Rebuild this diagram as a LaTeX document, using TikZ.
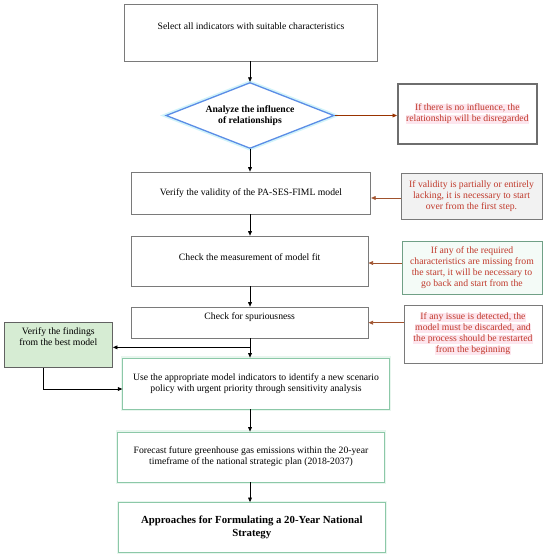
\documentclass[tikz,border=0pt]{standalone}
\usepackage{fontspec}
\setmainfont{Liberation Serif}
\usetikzlibrary{shapes.geometric,arrows.meta,calc}
\definecolor{redtxt}{HTML}{C0392B}
\definecolor{pinkhl}{HTML}{FDE6EE}
\definecolor{arrbrown}{HTML}{A0522D}
\definecolor{arrred}{HTML}{993300}
\definecolor{dblue}{HTML}{5B8DE6}
\definecolor{dglow}{HTML}{D2F4FA}
\definecolor{boxgray}{HTML}{7A7A7A}
\definecolor{thickgray}{HTML}{6E6E6E}
\definecolor{greenfill}{HTML}{D6ECD3}
\definecolor{greenline}{HTML}{8CC8A8}
\definecolor{greenglow}{HTML}{E8F6EE}
\definecolor{r3fill}{HTML}{F4FBF7}
\definecolor{r2fill}{HTML}{F2F2F2}
\newcommand{\hlt}[1]{{\setlength{\fboxsep}{0.5pt}\colorbox{pinkhl}{#1}}}
\begin{document}
\begin{tikzpicture}[x=1pt,y=-1pt,
  every node/.style={font=\fontsize{9.7}{11}\selectfont, inner sep=0pt, align=center},
  box/.style={draw=boxgray, line width=0.7pt, fill=white},
  gbox/.style={draw=greenline, line width=0.8pt, fill=white, preaction={draw=greenglow, line width=3.5pt}},
  rnote/.style={text=redtxt},
  arr/.style={-{Triangle[length=4.5pt,width=3.8pt]}, line width=0.7pt, black},
  barr/.style={-{Triangle[length=4.5pt,width=3.8pt]}, line width=0.7pt, arrbrown},
  txt/.style={font=\fontsize{9.7}{11}\selectfont, align=center}]
\useasboundingbox (0,0) rectangle (550,560);

% main column
\node[box, minimum width=253, minimum height=57,
  label={[txt, yshift=6.5pt]center:Select all indicators with suitable characteristics}] (b1) at (251,32.5) {};
\node[diamond, draw=dblue, line width=1.3pt, aspect=2.5, minimum width=168, minimum height=66,
  preaction={draw=dglow, line width=4.5pt}, fill=white,
  font=\fontsize{9.7}{11}\selectfont\bfseries] (d) at (250,115.5) {Analyze the influence\\of relationships};
\node[box, minimum width=239.5, minimum height=42] (b2) at (251,193) {Verify the validity of the PA-SES-FIML model};
\node[box, minimum width=237, minimum height=50,
  label={[txt, yshift=4pt]center:Check the measurement of model fit}] (b3) at (249.7,261) {};
\node[box, minimum width=237, minimum height=31,
  label={[txt, yshift=5.5pt]center:Check for spuriousness}] (b4) at (249.7,322.5) {};
\node[gbox, minimum width=266.5, minimum height=51] (b5) at (256,383.5) {Use the appropriate model indicators to identify a new scenario\\policy with urgent priority through sensitivity analysis};
\node[gbox, minimum width=267, minimum height=50] (b6) at (251,457) {Forecast future greenhouse gas emissions within the 20-year\\timeframe of the national strategic plan (2018-2037)};
\node[gbox, minimum width=266.5, minimum height=50,
  font=\fontsize{10.8}{13}\selectfont\bfseries] (b7) at (251.8,527.5) {Approaches for Formulating a 20-Year National\\Strategy};

% side notes
\node[draw=thickgray, line width=2pt, fill=white, minimum width=138.6, minimum height=60, rnote] (r1) at (467.3,114) {\hlt{If there is no influence, the}\\\hlt{relationship will be disregarded}};
\node[draw=boxgray, line width=0.7pt, fill=r2fill, minimum width=141, minimum height=46, rnote] (r2) at (471.5,196) {If validity is partially or entirely\\lacking, it is necessary to start\\over from the first step.};
\node[draw=greenline!80!black, line width=0.7pt, fill=r3fill, minimum width=140, minimum height=53, rnote] (r3) at (472,267.5) {If any of the required\\characteristics are missing from\\the start, it will be necessary to\\go back and start from the};
\node[draw=boxgray, line width=0.7pt, fill=white, minimum width=138, minimum height=58, rnote] (r4) at (473,334) {\hlt{If any issue is detected, the}\\\hlt{model must be discarded, and}\\\hlt{the process should be restarted}\\\hlt{from the beginning}};
\node[draw=boxgray!80!black, line width=0.7pt, fill=greenfill, minimum width=108.5, minimum height=45,
  label={[txt, yshift=8pt]center:Verify the findings\\from the best model}] (g) at (58.3,345) {};

% connectors
\draw[arr] (b1.south -| d.north) -- (d.north);
\draw[arr] (d.south) -- (d.south |- b2.north);
\draw[arr] (d.south |- b2.south) -- (d.south |- b3.north);
\draw[arr] (d.south |- b3.south) -- (d.south |- b4.north);
\coordinate (j) at ($(d.south |- b4.south)+(0,9)$);
\draw[arr] (d.south |- b4.south) -- (d.south |- b5.north);
\draw[arr] (j) -- (j -| g.east);
\draw[arr] (d.south |- b5.south) -- (d.south |- b6.north);
\draw[arr] (d.south |- b6.south) -- (d.south |- b7.north);
\coordinate (gs) at ($(g.south)+(-14.5,0)$);
\coordinate (ge) at ($(b5.west)+(0,5.5)$);
\draw[arr] (gs) |- (ge);
\draw[-{Triangle[length=4.5pt,width=3.8pt]}, line width=0.9pt, arrred] (d.east) -- (d.east -| r1.west);
\coordinate (r2a) at ($(r2.west)+(0,2)$);
\draw[barr] (r2a) -- (r2a -| b2.east);
\coordinate (r3a) at ($(r3.west)+(0,-4.5)$);
\draw[barr] (r3a) -- (r3a -| b3.east);
\coordinate (r4a) at ($(r4.west)+(0,-11.3)$);
\draw[barr] (r4a) -- (r4a -| b4.east);
\end{tikzpicture}
\end{document}
